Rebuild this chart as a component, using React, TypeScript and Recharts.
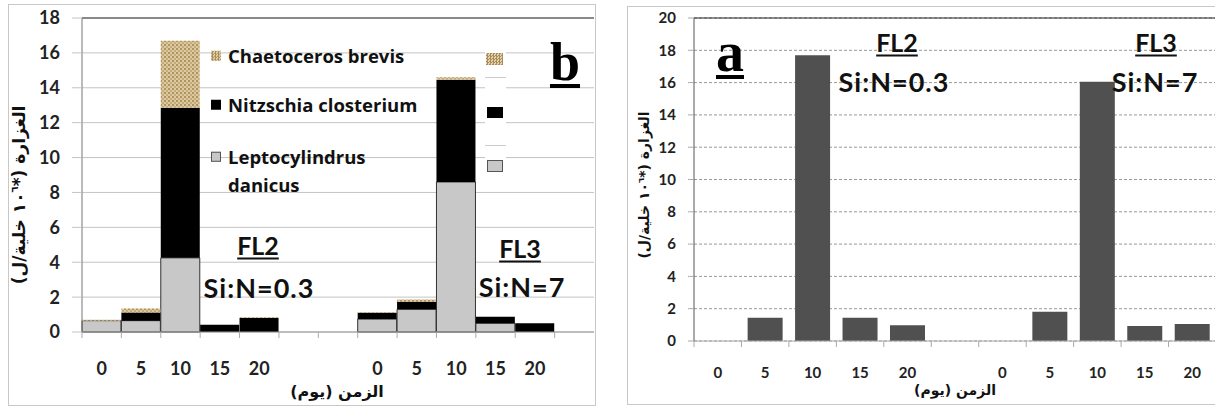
import React from "react";
import { BarChart, Bar, XAxis, YAxis, CartesianGrid, ReferenceLine } from "recharts";

// panel b: stacked species counts (10^6 cells/L)
const daysB = ["0", "5", "10", "15", "20", "", "", "0", "5", "10", "15", "20", ""];
const leptoB = [0.65, 0.65, 4.25, 0, 0, null, null, 0.74, 1.3, 8.6, 0.5, 0, null];
const nitzB = [0, 0.47, 8.6, 0.42, 0.8, null, null, 0.36, 0.43, 5.86, 0.37, 0.5, null];
const chaetB = [0.05, 0.23, 3.85, 0, 0.04, null, null, 0.03, 0.14, 0.14, 0, 0, null];
const ticksB = [0, 2, 4, 6, 8, 10, 12, 14, 16, 18];

// panel a: total abundance
const daysA = ["0", "5", "10", "15", "20", "", "0", "5", "10", "15", "20"];
const totalA = [0, 1.44, 17.7, 1.44, 0.97, null, 0, 1.81, 16.06, 0.93, 1.05];
const ticksA = [0, 2, 4, 6, 8, 10, 12, 14, 16, 18, 20];

const dataB = daysB.map((d, i) => ({ idx: i, day: d, lepto: leptoB[i], nitz: nitzB[i], chaet: chaetB[i] }));
const dataA = daysA.map((d, i) => ({ idx: i, day: d, total: totalA[i] }));

const latin = "Lato, 'Open Sans', sans-serif";
const arabic = "'DejaVu Sans', sans-serif";
const beige = "repeating-conic-gradient(#a98c5a 0 25%, #e2d2ad 0 50%) 0 0/3px 3px";

// draws the day label plus a tick mark at the left edge of each category
const CatTick = (props: any) => {
  const { x, y, payload, labels, band, drop, fontSize } = props;
  const axisY = y - drop;
  const left = x - band / 2;
  return (
    <g>
      <line x1={left} x2={left} y1={axisY} y2={axisY + 6} stroke="#aaa" />
      <text x={x} y={y} dy="0.71em" textAnchor="middle" fontSize={fontSize} fontWeight={700} fill="#222" fontFamily={latin}>
        {labels[payload.value]}
      </text>
    </g>
  );
};

const abs = (s: React.CSSProperties): React.CSSProperties => ({ position: "absolute", ...s });

const Centered = ({ x, y, size, children, underline, spacing = 0 }: any) => (
  <div
    style={abs({
      left: x,
      top: y,
      transform: "translate(-50%,-50%)",
      fontFamily: latin,
      fontWeight: 700,
      fontSize: size,
      letterSpacing: spacing,
      whiteSpace: "nowrap",
      color: "#111",
      textDecoration: underline ? "underline" : "none",
      textDecorationThickness: 2,
      textUnderlineOffset: 3,
      lineHeight: 1,
    })}
  >
    {children}
  </div>
);

const YTitle = ({ x, y, size }: any) => (
  <div
    style={abs({
      left: x,
      top: y,
      transform: "translate(-50%,-50%) rotate(-90deg)",
      fontFamily: arabic,
      fontWeight: 700,
      fontSize: size,
      whiteSpace: "nowrap",
      direction: "rtl",
      color: "#111",
      lineHeight: 1,
    })}
  >
    الغزارة (*١٠<sup style={{ fontSize: size * 0.6 }}>٦</sup> خلية/ل)
  </div>
);

const XTitle = ({ x, y, size }: any) => (
  <div
    style={abs({
      left: x,
      top: y,
      transform: "translate(-50%,-50%)",
      fontFamily: arabic,
      fontWeight: 700,
      fontSize: size,
      whiteSpace: "nowrap",
      direction: "rtl",
      color: "#111",
      lineHeight: 1,
    })}
  >
    الزمن (يوم)
  </div>
);

const Letter = ({ x, y, size, children }: any) => (
  <div
    style={abs({
      left: x,
      top: y,
      transform: "translate(-50%,-50%)",
      fontFamily: "'Liberation Serif', serif",
      fontWeight: 700,
      fontSize: size,
      lineHeight: 1,
      color: "#000",
      textDecoration: "underline",
      textDecorationThickness: 4,
      textUnderlineOffset: 4,
    })}
  >
    {children}
  </div>
);

const legendFont: React.CSSProperties = { fontFamily: "'Open Sans', sans-serif", fontWeight: 700, fontSize: 18.5, color: "#111", whiteSpace: "nowrap", lineHeight: 1 };

const LegendRow = ({ y, swatch, children }: any) => (
  <div style={abs({ left: 211, top: y, transform: "translateY(-50%)", display: "flex", alignItems: "center", ...legendFont })}>
    <span style={{ width: 10, height: 10, marginRight: 7, boxSizing: "border-box", ...swatch }} />
    {children}
  </div>
);

const plotB = { left: 82, right: 6, top: 18, bottom: 75 };
const bandB = (600 - plotB.left - plotB.right) / daysB.length;
const plotA = { left: 94, right: 1, top: 18, bottom: 66 };
const bandA = (617 - plotA.left - plotA.right) / daysA.length;

export default function App() {
  return (
    <div style={abs({ left: 0, top: 0, width: 1215, height: 407, background: "#fff", overflow: "hidden" })}>
      {/* frames */}
      <div style={abs({ left: 8, top: 4, width: 586, height: 400, border: "1px solid #c8c8c8" })} />
      <div style={abs({ left: 627, top: 6, width: 600, height: 397, border: "1px solid #c8c8c8" })} />

      {/* panel b */}
      <div style={abs({ left: 0, top: 0 })}>
        <BarChart width={600} height={407} data={dataB} margin={{ top: plotB.top, right: plotB.right, left: 0, bottom: 0 }} barCategoryGap={0} barGap={0}>
          <defs>
            <pattern id="sand" width="4" height="4" patternUnits="userSpaceOnUse">
              <rect width="4" height="4" fill="#dcc9a0" />
              <rect width="2" height="2" fill="#b0935f" />
              <rect x="2" y="2" width="2" height="2" fill="#c4ab7b" />
            </pattern>
          </defs>
          <CartesianGrid vertical={false} stroke="#c4c4c4" />
          <XAxis
            dataKey="idx"
            type="category"
            height={plotB.bottom}
            interval={0}
            tickLine={false}
            tickSize={6}
            tickMargin={24}
            axisLine={{ stroke: "#999" }}
            tick={<CatTick labels={daysB} band={bandB} drop={30} fontSize={18} />}
          />
          <YAxis
            domain={[0, 18]}
            ticks={ticksB}
            width={plotB.left}
            tickSize={10}
            tickMargin={12}
            tickLine={{ stroke: "#c4c4c4" }}
            axisLine={{ stroke: "#777" }}
            tick={{ fontSize: 18, fontWeight: 700, fill: "#222", fontFamily: latin }}
          />
          <ReferenceLine y={18} stroke="#333" />
          <Bar dataKey="lepto" stackId="s" fill="#c8c8c8" stroke="#333" strokeWidth={1} isAnimationActive={false} />
          <Bar dataKey="nitz" stackId="s" fill="#000" isAnimationActive={false} />
          <Bar dataKey="chaet" stackId="s" fill="url(#sand)" isAnimationActive={false} />
        </BarChart>
      </div>

      <LegendRow y={56} swatch={{ background: beige }}>Chaetoceros brevis</LegendRow>
      <LegendRow y={105} swatch={{ background: "#000" }}>Nitzschia closterium</LegendRow>
      <LegendRow y={157} swatch={{ background: "#c8c8c8", border: "1px solid #555" }}>Leptocylindrus</LegendRow>
      <div style={abs({ left: 228, top: 185, transform: "translateY(-50%)", ...legendFont })}>danicus</div>

      {/* remnant legend keys */}
      <div style={abs({ left: 485, top: 48, width: 21, height: 128, background: "#fff" })}>
        <div style={abs({ left: 1, top: 5, width: 17, height: 12, background: beige })} />
        <div style={abs({ left: 0, top: 29, width: 21, height: 1, background: "#ccc" })} />
        <div style={abs({ left: 2, top: 59, width: 16, height: 11, background: "#000" })} />
        <div style={abs({ left: 0, top: 97, width: 21, height: 1, background: "#ccc" })} />
        <div style={abs({ left: 2, top: 112, width: 16, height: 12, background: "#c8c8c8", border: "1px solid #555", boxSizing: "border-box" })} />
      </div>

      <Letter x={565} y={62} size={54}>b</Letter>
      <Centered x={258} y={245} size={25} underline>FL2</Centered>
      <Centered x={259} y={287} size={27} spacing={1}>Si:N=0.3</Centered>
      <Centered x={520} y={248} size={25} underline>FL3</Centered>
      <Centered x={522} y={286} size={27} spacing={1}>Si:N=7</Centered>
      <YTitle x={19} y={195} size={17} />
      <XTitle x={337} y={392} size={16} />

      {/* panel a */}
      <div style={abs({ left: 600, top: 0 })}>
        <BarChart width={617} height={407} data={dataA} margin={{ top: plotA.top, right: plotA.right, left: 0, bottom: 0 }} barCategoryGap="13%">
          <CartesianGrid vertical={false} stroke="#999" strokeDasharray="3 2" />
          <XAxis
            dataKey="idx"
            type="category"
            height={plotA.bottom}
            interval={0}
            tickLine={false}
            tickSize={6}
            tickMargin={20}
            axisLine={{ stroke: "#aaa" }}
            tick={<CatTick labels={daysA} band={bandA} drop={26} fontSize={15} />}
          />
          <YAxis
            domain={[0, 20]}
            ticks={ticksA}
            width={plotA.left}
            tickSize={6}
            tickMargin={12}
            tickLine={{ stroke: "#aaa" }}
            axisLine={{ stroke: "#555" }}
            tick={{ fontSize: 15, fontWeight: 700, fill: "#222", fontFamily: latin }}
          />
          <ReferenceLine y={20} stroke="#222" />
          <Bar dataKey="total" fill="#505050" isAnimationActive={false} />
        </BarChart>
      </div>

      <Letter x={730} y={52} size={56}>a</Letter>
      <Centered x={897} y={42} size={25} underline>FL2</Centered>
      <Centered x={894} y={81} size={27} spacing={1}>Si:N=0.3</Centered>
      <Centered x={1156} y={42} size={25} underline>FL3</Centered>
      <Centered x={1155} y={81} size={27} spacing={1}>Si:N=7</Centered>
      <YTitle x={644} y={185} size={14} />
      <XTitle x={955} y={390} size={14} />
    </div>
  );
}
